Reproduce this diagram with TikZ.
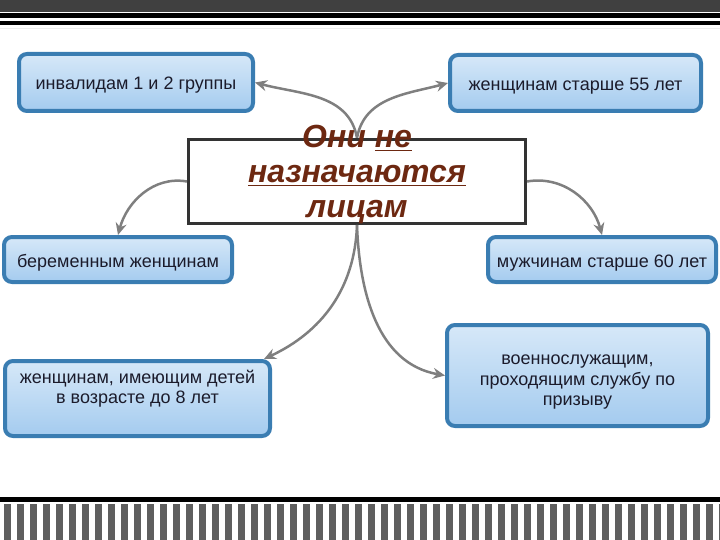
\documentclass[tikz,border=0pt]{standalone}
\usepackage{fontspec}
\setmainfont{Liberation Sans}
\usetikzlibrary{arrows.meta, positioning, backgrounds}
\definecolor{boxedge}{RGB}{58, 125, 178}
\definecolor{boxtop}{RGB}{214, 232, 248}
\definecolor{boxbot}{RGB}{164, 203, 239}
\definecolor{boxtext}{RGB}{27, 27, 43}
\definecolor{headtext}{RGB}{109, 40, 17}
\definecolor{linkgray}{RGB}{127, 127, 127}
\definecolor{bandgray}{RGB}{64, 64, 64}
\definecolor{stripegray}{RGB}{95, 95, 95}

\begin{document}
\begin{tikzpicture}[
  x=1pt, y=-1pt,
  item/.style={rectangle, draw=boxedge, line width=4pt, rounded corners=8pt, top color=boxtop, bottom color=boxbot, align=center, text=boxtext, font=\fontsize{18}{20.5}\selectfont, inner sep=2pt},
  oneline/.style={text height=19pt, text depth=4pt},
  head/.style={rectangle, draw=black!80, line width=3pt, fill=white, align=center, text=headtext, font=\fontsize{32}{35}\selectfont\bfseries\itshape, inner sep=2pt},
  link/.style={-{Stealth[length=12pt, width=11pt, inset=4pt]}, line width=2.5pt, linkgray}
]
  \useasboundingbox (0,0) rectangle (720,540);

  % Frame
  \fill[bandgray] (0,0) rectangle (720,12);
  \fill[black] (0,13) rectangle (720,18);
  \fill[black] (0,21) rectangle (720,25);
  \draw[black!7] (0,28) -- (720,28);
  \fill[black] (0,497) rectangle (720,502);
  \foreach \i in {0,...,55}
    \fill[stripegray] (4+13*\i,504) rectangle +(6.5,36);

  % Nodes
  \node[head, minimum width=337pt, minimum height=84pt, text height=73pt, text depth=0pt] (cen) at (357,181.5)
    {Они \underline{не}\\ \underline{назначаются}\\ лицам};
  \node[item, oneline, minimum width=234pt, minimum height=57pt] (inv) at (136,82.5) {инвалидам 1 и 2 группы};
  \node[item, oneline, minimum width=251pt, minimum height=56pt] (w55) at (575.5,83) {женщинам старше 55 лет};
  \node[item, oneline, minimum width=228pt, minimum height=45pt] (preg) at (118,259.5) {беременным женщинам};
  \node[item, oneline, minimum width=228pt, minimum height=45pt] (m60) at (602,259.5) {мужчинам старше 60 лет};
  \node[item, minimum width=265pt, minimum height=75pt, text height=29pt, text depth=19pt] (kids) at (137.5,398.5)
    {женщинам, имеющим детей\\ в возрасте до 8 лет};
  \node[item, minimum width=261pt, minimum height=101pt, text height=63pt, text depth=3pt] (mil) at (577.5,375.5)
    {военнослужащим,\\ проходящим службу по\\ призыву};

  % Paths
  \begin{pgfonlayer}{background}
    \draw[link] (cen.north) to[out=100, in=-15] (inv.east);
    \draw[link] (cen.north) to[out=80, in=195] (w55.west);
  \end{pgfonlayer}
  \draw[link] (cen.west) to[out=170, in=75] (preg.north);
  \draw[link] (cen.east) to[out=10, in=105] (m60.north);
  \draw[link] (cen.south) to[out=-92, in=25] ([xshift=-8pt]kids.north east);
  \draw[link] (cen.south) to[out=-88, in=170] (mil.west);
\end{tikzpicture}
\end{document}
